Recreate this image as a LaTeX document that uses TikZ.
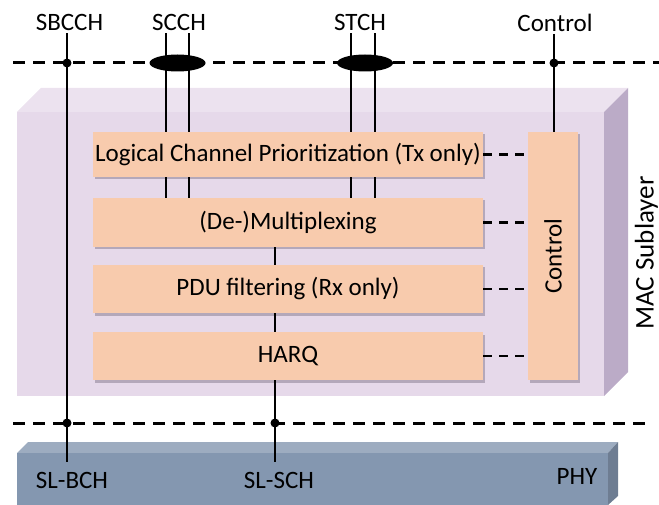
\documentclass[tikz,border=0pt]{standalone}
\usepackage{fontspec}
\setmainfont{Carlito}
\usetikzlibrary{positioning, shapes.geometric, shadows}

\definecolor{macfront}{RGB}{230,217,234}
\definecolor{mactop}{RGB}{236,226,239}
\definecolor{macside}{RGB}{187,171,199}
\definecolor{peach}{RGB}{248,203,173}
\definecolor{phyfront}{RGB}{132,151,176}
\definecolor{phytop}{RGB}{157,172,192}
\definecolor{physide}{RGB}{110,125,146}

\begin{document}
\begin{tikzpicture}[x=1pt, y=-1pt, font=\fontsize{25}{30}\selectfont,
    block/.style={fill=peach, inner sep=0pt, minimum width=390pt,
        drop shadow={shadow xshift=1.5pt, shadow yshift=-2.5pt, fill=macside!70!black, opacity=0.5}},
    chan/.style={line width=2.5pt},
    bus/.style={line width=3pt, dash pattern=on 12pt off 8pt},
    link/.style={line width=2.5pt, dash pattern=on 9pt off 7pt},
    dot/.style={circle, fill=black, minimum size=9pt, inner sep=0pt},
    bundle/.style={ellipse, fill=black, minimum width=56pt, minimum height=17pt, inner sep=0pt},
    toplbl/.style={inner sep=2.5pt},
    botlbl/.style={inner xsep=2pt, inner ysep=10pt}]
    \useasboundingbox (0,0) rectangle (659,505);

    % MAC sublayer slab
    \fill[mactop]  (17,112) -- (41,88) -- (628,88) -- (604,112) -- cycle;
    \fill[macside] (604,112) -- (628,88) -- (628,372) -- (604,396) -- cycle;
    \fill[macfront] (17,112) rectangle (604,396);

    % PHY slab
    \fill[phytop]  (17,453) -- (28,442) -- (618,442) -- (608,453) -- cycle;
    \fill[physide] (608,453) -- (618,442) -- (618,496) -- (608,505) -- cycle;
    \fill[phyfront] (17,453) rectangle (608,505);

    % SAPs
    \coordinate (tl) at (13,63);  \coordinate (tr) at (659,63);
    \coordinate (bl) at (13,423); \coordinate (br) at (650,423);
    \draw[bus, black!15, shift={(1,2.5)}] (tl) -- (tr) (bl) -- (br);
    \draw[bus] (tl) -- (tr);
    \draw[bus] (bl) -- (br);

    \node[block, minimum height=45pt] at (288,154.5) (lcp)   {Logical Channel Prioritization (Tx only)};
    \node[block, minimum height=49pt] at (288,222.5) (demux) {(De-)Multiplexing};
    \node[block, minimum height=48pt] at (288,289)   (pdu)   {PDU filtering (Rx only)};
    \node[block, minimum height=48pt] at (288,356)   (harq)  {HARQ};
    \node[block, minimum width=50pt, minimum height=248pt] at (553,256) (ctrl) {};
    \node[rotate=90] at (ctrl) {Control};

    \draw[link]
        (lcp.east)   -- (lcp.east -| ctrl.west)
        (demux.east) -- (demux.east -| ctrl.west)
        (pdu.east)   -- (pdu.east -| ctrl.west)
        (harq.east)  -- (harq.east -| ctrl.west);

    \node[toplbl] at (69.5,22.5) (sbcch)  {SBCCH};
    \node[toplbl] at (179,22.5)  (scch)   {SCCH};
    \node[toplbl] at (360,22.5)  (stch)   {STCH};
    \node[toplbl] at (555,22.5)  (ctrlch) {Control};
    \node[botlbl] at (72,480.5)  (slbch)  {SL-BCH};
    \node[botlbl] at (279,480.5) (slsch)  {SL-SCH};
    \node at (577,476.5) (phy) {PHY};
    \node[rotate=90, font=\fontsize{27}{32}\selectfont] at (646.5,253) (mac) {MAC Sublayer};

    \node[dot] at (67,63)   (d1) {};
    \node[dot] at (554,63)  (d2) {};
    \node[dot] at (67,423)  (d3) {};
    \node[dot] at (275,423) (d4) {};

    \coordinate (sc1) at (166,63); \coordinate (sc2) at (189,63);
    \coordinate (st1) at (351,63); \coordinate (st2) at (375,63);

    \draw[chan] (sbcch.south -| d1) -- (d1.center) -- (d3.center) -- (d3 |- slbch.north);
    \draw[chan] (ctrlch.south -| d2) -- (d2.center) -- (d2 |- ctrl.north);
    \draw[chan]
        (sc1 |- scch.south) -- (sc1 |- lcp.north)  (sc1 |- lcp.south) -- (sc1 |- demux.north)
        (sc2 |- scch.south) -- (sc2 |- lcp.north)  (sc2 |- lcp.south) -- (sc2 |- demux.north)
        (st1 |- stch.south) -- (st1 |- lcp.north)  (st1 |- lcp.south) -- (st1 |- demux.north)
        (st2 |- stch.south) -- (st2 |- lcp.north)  (st2 |- lcp.south) -- (st2 |- demux.north);
    \draw[chan]
        (demux.south -| d4) -- (pdu.north -| d4)
        (pdu.south -| d4) -- (harq.north -| d4)
        (harq.south -| d4) -- (d4.center) -- (d4 |- slsch.north);

    \node[bundle] at (177.5,63) (scchb) {};
    \node[bundle] at (365,63)   (stchb) {};
\end{tikzpicture}
\end{document}
